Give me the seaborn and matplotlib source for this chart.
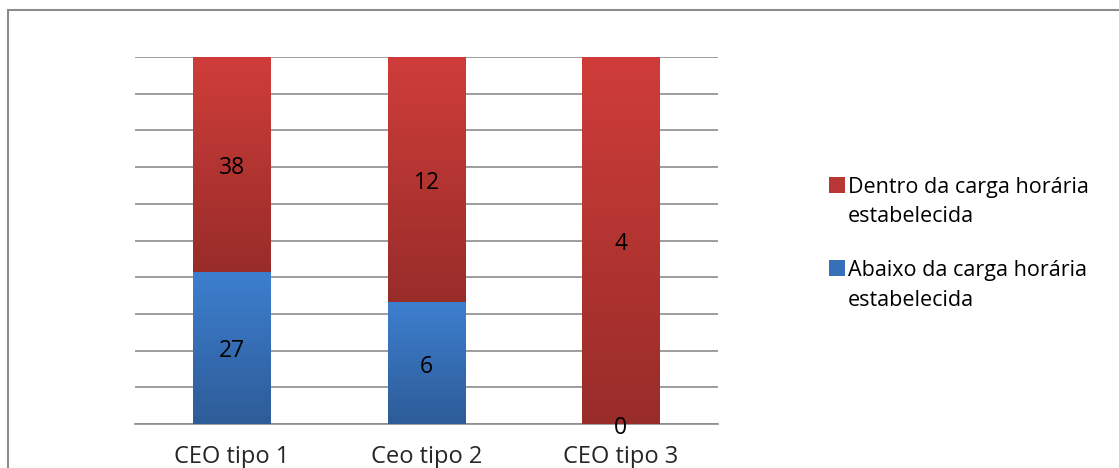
import numpy as np
import pandas as pd
import matplotlib
matplotlib.use("Agg")
import matplotlib.pyplot as plt
import seaborn as sns
from matplotlib.patches import Rectangle
from matplotlib.colors import LinearSegmentedColormap

categories = ["CEO tipo 1", "Ceo tipo 2", "CEO tipo 3"]
abaixo = [27, 6, 0]
dentro = [38, 12, 4]
series_labels = ["Dentro da carga horária\nestabelecida", "Abaixo da carga horária\nestabelecida"]

df = pd.DataFrame({"cat": categories, "abaixo": abaixo, "dentro": dentro})
df["total"] = df["abaixo"] + df["dentro"]
df["pct_abaixo"] = df["abaixo"] / df["total"] * 100
df["pct_total"] = 100.0

sns.set_theme(style="white")
plt.rcParams["font.family"] = ["Open Sans", "DejaVu Sans"]

W, H = 1119, 468
fig = plt.figure(figsize=(W / 100, H / 100), dpi=100)
ax = fig.add_axes([135 / W, 1 - 424 / H, (718 - 135) / W, (424 - 57) / H])

red_top, red_bot = "#CF3D3A", "#982C29"
blue_top, blue_bot = "#3D7FCF", "#2D5C98"

sns.barplot(data=df, x="cat", y="pct_total", color=red_top, width=0.4, ax=ax,
            saturation=1, linewidth=0, zorder=3)
n_red = len(ax.patches)
sns.barplot(data=df, x="cat", y="pct_abaixo", color=blue_top, width=0.4, ax=ax,
            saturation=1, linewidth=0, zorder=4)

red_cmap = LinearSegmentedColormap.from_list("r", [red_bot, red_top])
blue_cmap = LinearSegmentedColormap.from_list("b", [blue_bot, blue_top])
grad = np.linspace(0, 1, 256).reshape(-1, 1)
patches = list(ax.patches)
for i, p in enumerate(patches):
    x0, w = p.get_x(), p.get_width()
    if i < n_red:
        j = i
        y0 = df["pct_abaixo"].iloc[j]
        y1 = 100
        cmap = red_cmap
    else:
        j = i - n_red
        y0 = 0
        y1 = df["pct_abaixo"].iloc[j]
        cmap = blue_cmap
    if y1 <= y0:
        continue
    im = ax.imshow(grad, cmap=cmap, origin="lower", aspect="auto",
                   extent=[x0, x0 + w, y0, y1], zorder=p.get_zorder() + 0.5)
    im.set_clip_path(p)
ax.set_xlim(-0.5, 2.5)
ax.set_ylim(0, 100)

# data labels
lab_fs = 16.5
for j in range(len(df)):
    pa = df["pct_abaixo"].iloc[j]
    ax.text(j, (pa + 100) / 2 - 1.0, str(df["dentro"].iloc[j]), ha="center", va="center",
            fontsize=lab_fs, color="black", zorder=10)
    if df["abaixo"].iloc[j] > 0:
        ax.text(j, pa / 2 - 1.0, str(df["abaixo"].iloc[j]), ha="center", va="center",
                fontsize=lab_fs, color="black", zorder=10)
    else:
        ax.text(j, -1.0, str(df["abaixo"].iloc[j]), ha="center", va="center",
                fontsize=lab_fs, color="black", zorder=10)

# grid
ax.set_yticks(np.arange(0, 101, 10))
ax.set_yticklabels([])
ax.tick_params(axis="y", length=0)
ax.yaxis.grid(True, color="#8c8c8c", linewidth=1.2, zorder=0)
ax.set_axisbelow(True)
for s in ["top", "right", "left"]:
    ax.spines[s].set_visible(False)
ax.spines["bottom"].set_color("#8c8c8c")
ax.spines["bottom"].set_linewidth(1.2)

ax.set_xticks([0, 1, 2])
ax.set_xticklabels(categories, fontsize=17)
ax.set_xticks([-0.5, 0.5, 1.5, 2.5], minor=True)
ax.tick_params(axis="x", which="major", length=0, pad=15)
ax.tick_params(axis="x", which="minor", length=7, width=1.2, color="#8c8c8c", direction="out")
ax.set_xlabel("")
ax.set_ylabel("")

# legend (manual layout, handle aligned to the first line)
leg_colors = ["#B83633", "#3670B8"]
leg_rows = [(185, 214), (268, 298)]
for lbl, col, (l1, l2) in zip(series_labels, leg_colors, leg_rows):
    fig.patches.append(Rectangle((829 / W, 1 - (l1 + 8) / H), 16 / W, 16 / H,
                                 transform=fig.transFigure, facecolor=col,
                                 edgecolor="none"))
    first, second = lbl.split("\n")
    fig.text(848 / W, 1 - l1 / H, first, ha="left", va="center_baseline",
             fontsize=15.5, color="black")
    fig.text(848 / W, 1 - l2 / H, second, ha="left", va="center_baseline",
             fontsize=15.5, color="black")

fig.patches.append(Rectangle((8 / W, -0.1), 1.2, 1 - 10 / H + 0.1,
                             transform=fig.transFigure, fill=False,
                             edgecolor="#8c8c8c", linewidth=1.5, zorder=0))

fig.savefig("out.png", dpi=100)
